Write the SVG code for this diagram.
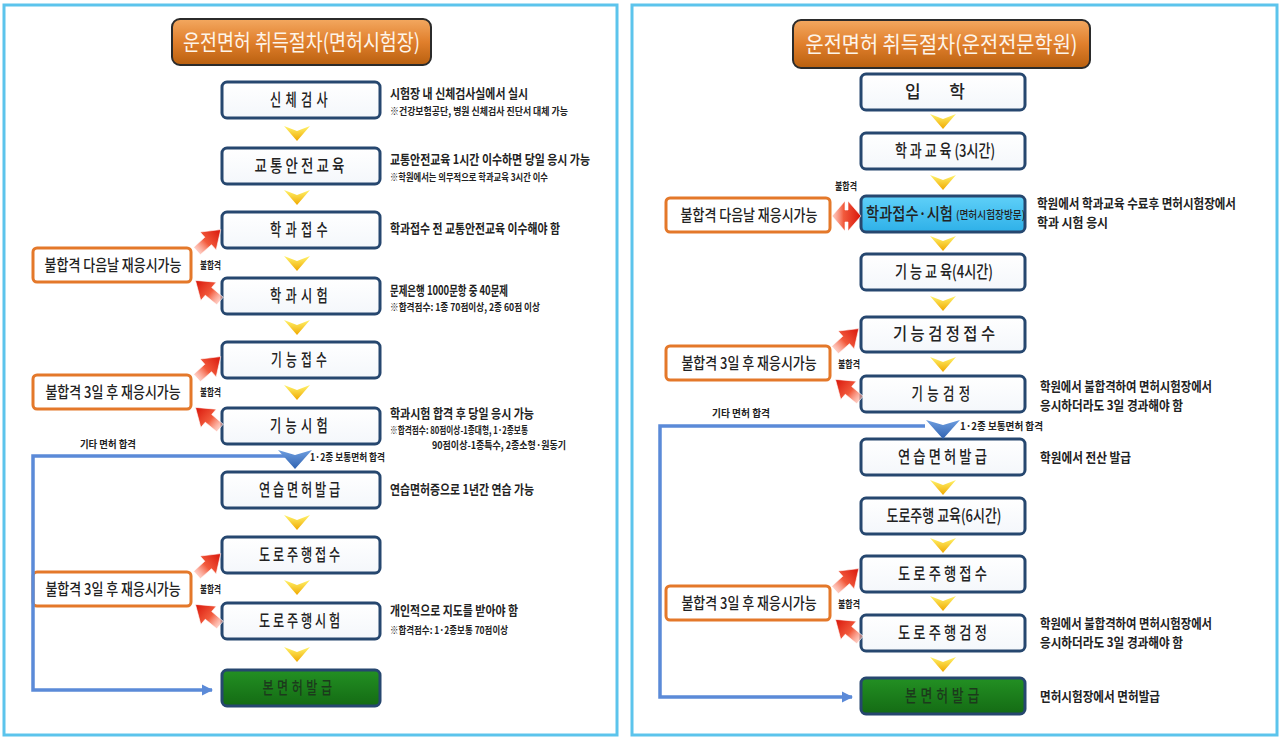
<svg xmlns="http://www.w3.org/2000/svg" width="1280" height="739" viewBox="0 0 1280 739">
<defs>
<linearGradient id="gOrange" x1="0" y1="0" x2="0" y2="1">
<stop offset="0" stop-color="#f3a860"/><stop offset="0.5" stop-color="#e07f2c"/><stop offset="1" stop-color="#b9600f"/>
</linearGradient>
<linearGradient id="gYellow" x1="0" y1="0" x2="0" y2="1">
<stop offset="0" stop-color="#fff36a"/><stop offset="1" stop-color="#f0a800"/>
</linearGradient>
<linearGradient id="gBlueArr" x1="0" y1="0" x2="0" y2="1">
<stop offset="0" stop-color="#6e9ee0"/><stop offset="1" stop-color="#2f62b0"/>
</linearGradient>
<linearGradient id="gRed" x1="0" y1="0" x2="1" y2="0">
<stop offset="0" stop-color="#ffb0a0" stop-opacity="0.6"/><stop offset="0.4" stop-color="#f25a3c"/><stop offset="1" stop-color="#d8150a"/>
</linearGradient>
<linearGradient id="gNode" x1="0" y1="0" x2="0" y2="1">
<stop offset="0" stop-color="#ffffff"/><stop offset="1" stop-color="#f4f7fb"/>
</linearGradient>
<linearGradient id="gSky" x1="0" y1="0" x2="0" y2="1">
<stop offset="0" stop-color="#5fd0f8"/><stop offset="1" stop-color="#2eb0e8"/>
</linearGradient>
<linearGradient id="gGreen" x1="0" y1="0" x2="0" y2="1">
<stop offset="0" stop-color="#239023"/><stop offset="1" stop-color="#146b14"/>
</linearGradient>
<path id="yArrow" d="M-13,0 L0,5 L13,0 L0,15 Z"/>
<path id="rArrow" d="M0,-5 L15,-5 L15,-12 L32,0 L15,12 L15,5 L0,5 Z"/>
<marker id="blueHead" viewBox="0 0 10 10" refX="9" refY="5" markerWidth="3.2" markerHeight="3.6" orient="auto" markerUnits="strokeWidth">
<path d="M0,0 L10,5 L0,10 Z" fill="#5b8ad8"/>
</marker>
</defs>
<style>
.panel{fill:#ffffff;stroke:#5cc4ec;stroke-width:3}
.title rect{fill:url(#gOrange);stroke:#2b2b2b;stroke-width:2}
.title text{font-family:"Noto Sans CJK KR","Noto Sans",sans-serif;font-size:22px;fill:#fdf5ea;text-anchor:middle}
.node rect{fill:url(#gNode);stroke:#26476f;stroke-width:3}
.node text{font-family:"Noto Sans CJK KR","Noto Sans",sans-serif;font-size:17px;font-weight:500;fill:#222;text-anchor:middle}
.node text.st{text-anchor:start}
.node text.sm{font-size:11px}
.node.green rect{fill:url(#gGreen)}
.node.green text{fill:#1c3a1c}
.node.sky rect{fill:url(#gSky)}
.fail rect{fill:#ffffff;stroke:#e4782a;stroke-width:3}
.fail text{font-family:"Noto Sans CJK KR","Noto Sans",sans-serif;font-size:16px;font-weight:500;fill:#222;text-anchor:middle}
.note{font-family:"Noto Sans CJK KR","Noto Sans",sans-serif;font-weight:700;fill:#222}
.n1{font-size:13px}
.n2{font-size:10px}
.lbl{font-family:"Noto Sans CJK KR","Noto Sans",sans-serif;font-weight:700;font-size:10px;fill:#222}
.yel{fill:url(#gYellow)}
.red{fill:url(#gRed);stroke:#fff;stroke-width:0.6}
.bline{fill:none;stroke:#5b8ad8;stroke-width:3.5}
.barr{fill:url(#gBlueArr)}
</style>

<rect class="panel" x="4" y="5" width="613" height="730"/>
<rect class="panel" x="632" y="5" width="645" height="730"/>

<!-- ============ LEFT PANEL ============ -->
<g id="title-left" class="title">
<rect x="172" y="19" width="259" height="46" rx="8"/>
<text x="301.5" y="50" textLength="237" lengthAdjust="spacingAndGlyphs">운전면허 취득절차(면허시험장)</text>
</g>

<g id="L-n1" class="node"><rect x="222" y="82" width="158" height="36" rx="5"/><text x="301" y="106" textLength="62" lengthAdjust="spacingAndGlyphs" letter-spacing="6">신체검사</text></g>
<g id="L-n2" class="node"><rect x="222" y="148" width="158" height="36" rx="5"/><text x="301" y="172" textLength="93" lengthAdjust="spacingAndGlyphs" letter-spacing="4">교통안전교육</text></g>
<g id="L-n3" class="node"><rect x="222" y="212" width="158" height="36" rx="5"/><text x="301" y="236" textLength="62" lengthAdjust="spacingAndGlyphs" letter-spacing="6">학과접수</text></g>
<g id="L-n4" class="node"><rect x="222" y="278" width="158" height="36" rx="5"/><text x="301" y="302" textLength="62" lengthAdjust="spacingAndGlyphs" letter-spacing="6">학과시험</text></g>
<g id="L-n5" class="node"><rect x="222" y="342" width="158" height="36" rx="5"/><text x="301" y="366" textLength="60" lengthAdjust="spacingAndGlyphs" letter-spacing="6">기능접수</text></g>
<g id="L-n6" class="node"><rect x="222" y="408" width="158" height="36" rx="5"/><text x="301" y="432" textLength="62" lengthAdjust="spacingAndGlyphs" letter-spacing="6">기능시험</text></g>
<g id="L-n7" class="node"><rect x="222" y="472" width="158" height="36" rx="5"/><text x="301" y="496" textLength="84" lengthAdjust="spacingAndGlyphs" letter-spacing="4">연습면허발급</text></g>
<g id="L-n8" class="node"><rect x="222" y="537" width="158" height="36" rx="5"/><text x="301" y="561" textLength="84" lengthAdjust="spacingAndGlyphs" letter-spacing="4">도로주행접수</text></g>
<g id="L-n9" class="node"><rect x="222" y="603" width="158" height="36" rx="5"/><text x="301" y="627" textLength="84" lengthAdjust="spacingAndGlyphs" letter-spacing="4">도로주행시험</text></g>
<g id="L-n10" class="node green"><rect x="222" y="670" width="158" height="36" rx="5"/><text x="299" y="694" textLength="73" lengthAdjust="spacingAndGlyphs" letter-spacing="5">본면허발급</text></g>

<g id="L-f1" class="fail"><rect x="33" y="248" width="158" height="34" rx="4"/><text transform="translate(113,271) scale(0.81,1)">불합격 다음날 재응시가능</text></g>
<g id="L-f2" class="fail"><rect x="33" y="375" width="158" height="34" rx="4"/><text transform="translate(113,398) scale(0.81,1)">불합격 3일 후 재응시가능</text></g>
<g id="L-f3" class="fail"><rect x="33" y="572" width="158" height="34" rx="4"/><text transform="translate(113,595) scale(0.81,1)">불합격 3일 후 재응시가능</text></g>

<g id="L-notes" class="note">
<text class="n1" x="390" y="98" textLength="138" lengthAdjust="spacingAndGlyphs">시험장 내 신체검사실에서 실시</text>
<text class="n2" x="390" y="115" textLength="178" lengthAdjust="spacingAndGlyphs">※건강보험공단, 병원 신체검사 진단서 대체 가능</text>
<text class="n1" x="390" y="164" textLength="200" lengthAdjust="spacingAndGlyphs">교통안전교육 1시간 이수하면 당일 응시 가능</text>
<text class="n2" x="390" y="181" textLength="158" lengthAdjust="spacingAndGlyphs">※학원에서는 의무적으로 학과교육 3시간 이수</text>
<text class="n1" x="390" y="233" textLength="170" lengthAdjust="spacingAndGlyphs">학과접수 전 교통안전교육 이수해야 함</text>
<text class="n1" x="390" y="295" textLength="118" lengthAdjust="spacingAndGlyphs">문제은행 1000문항 중 40문제</text>
<text class="n2" x="390" y="311" textLength="150" lengthAdjust="spacingAndGlyphs">※합격점수: 1종 70점이상, 2종 60점 이상</text>
<text class="n1" x="390" y="418" textLength="144" lengthAdjust="spacingAndGlyphs">학과시험 합격 후 당일 응시 가능</text>
<text class="n2" x="390" y="434" textLength="138" lengthAdjust="spacingAndGlyphs">※합격점수: 80점이상-1종대형, 1·2종보통</text>
<text class="n2" x="432" y="448.5" textLength="134" lengthAdjust="spacingAndGlyphs">90점이상-1종특수, 2종소형·원동기</text>
<text class="n1" x="390" y="494" textLength="144" lengthAdjust="spacingAndGlyphs">연습면허증으로 1년간 연습 가능</text>
<text class="n1" x="390" y="615" textLength="128" lengthAdjust="spacingAndGlyphs">개인적으로 지도를 받아야 함</text>
<text class="n2" x="390" y="634" textLength="118" lengthAdjust="spacingAndGlyphs">※합격점수: 1·2종보통 70점이상</text>
</g>

<!-- ============ RIGHT PANEL ============ -->
<g id="title-right" class="title">
<rect x="793" y="20" width="297" height="48" rx="8"/>
<text x="941.5" y="52" textLength="272" lengthAdjust="spacingAndGlyphs">운전면허 취득절차(운전전문학원)</text>
</g>

<g id="R-n1" class="node"><rect x="861" y="74" width="164" height="36" rx="5"/><text x="935" y="98" textLength="60">입 학</text></g>
<g id="R-n2" class="node"><rect x="861" y="133" width="164" height="36" rx="5"/><text x="945" y="157" textLength="100" lengthAdjust="spacingAndGlyphs">학 과 교 육 (3시간)</text></g>
<g id="R-n3" class="node sky"><rect x="861" y="196" width="164" height="36" rx="5"/><text class="st" transform="translate(866,220) scale(0.84,1)">학과접수·시험</text><text class="st sm" transform="translate(956,219) scale(0.88,1)">(면허시험장방문)</text></g>
<g id="R-n4" class="node"><rect x="861" y="254" width="164" height="36" rx="5"/><text x="944" y="278" textLength="98" lengthAdjust="spacingAndGlyphs">기 능 교 육(4시간)</text></g>
<g id="R-n5" class="node"><rect x="861" y="317" width="164" height="35" rx="5"/><text x="944" y="340" textLength="102" lengthAdjust="spacingAndGlyphs">기 능  검 정  접 수</text></g>
<g id="R-n6" class="node"><rect x="861" y="376" width="164" height="36" rx="5"/><text x="943" y="400" textLength="63" lengthAdjust="spacingAndGlyphs" letter-spacing="6">기능검정</text></g>
<g id="R-n7" class="node"><rect x="861" y="439" width="164" height="36" rx="5"/><text x="944" y="463" textLength="92" lengthAdjust="spacingAndGlyphs" letter-spacing="4">연습면허발급</text></g>
<g id="R-n8" class="node"><rect x="861" y="498" width="164" height="36" rx="5"/><text x="944" y="522" textLength="115" lengthAdjust="spacingAndGlyphs">도로주행 교육(6시간)</text></g>
<g id="R-n9" class="node"><rect x="861" y="556" width="164" height="36" rx="5"/><text x="944" y="580" textLength="92" lengthAdjust="spacingAndGlyphs" letter-spacing="4">도로주행접수</text></g>
<g id="R-n10" class="node"><rect x="861" y="615" width="164" height="36" rx="5"/><text x="944" y="639" textLength="92" lengthAdjust="spacingAndGlyphs" letter-spacing="4">도로주행검정</text></g>
<g id="R-n11" class="node green"><rect x="861" y="678" width="164" height="36" rx="5"/><text x="944" y="702" textLength="78" lengthAdjust="spacingAndGlyphs" letter-spacing="5">본면허발급</text></g>

<g id="R-f1" class="fail"><rect x="666" y="198" width="164" height="34" rx="4"/><text transform="translate(749,221) scale(0.81,1)">불합격 다음날 재응시가능</text></g>
<g id="R-f2" class="fail"><rect x="666" y="346" width="164" height="34" rx="4"/><text transform="translate(749,369) scale(0.81,1)">불합격 3일 후 재응시가능</text></g>
<g id="R-f3" class="fail"><rect x="666" y="586" width="164" height="34" rx="4"/><text transform="translate(749,609) scale(0.81,1)">불합격 3일 후 재응시가능</text></g>

<g id="R-notes" class="note">
<text class="n1" x="1037" y="208" textLength="199" lengthAdjust="spacingAndGlyphs">학원에서 학과교육 수료후 면허시험장에서</text>
<text class="n1" x="1037" y="227" textLength="71" lengthAdjust="spacingAndGlyphs">학과 시험 응시</text>
<text class="n1" x="1040" y="391" textLength="172" lengthAdjust="spacingAndGlyphs">학원에서 불합격하여 면허시험장에서</text>
<text class="n1" x="1040" y="410" textLength="143" lengthAdjust="spacingAndGlyphs">응시하더라도 3일 경과해야 함</text>
<text class="n1" x="1040" y="462" textLength="91" lengthAdjust="spacingAndGlyphs">학원에서 전산 발급</text>
<text class="n1" x="1040" y="628" textLength="172" lengthAdjust="spacingAndGlyphs">학원에서 불합격하여 면허시험장에서</text>
<text class="n1" x="1040" y="647" textLength="143" lengthAdjust="spacingAndGlyphs">응시하더라도 3일 경과해야 함</text>
<text class="n1" x="1040" y="701" textLength="120" lengthAdjust="spacingAndGlyphs">면허시험장에서 면허발급</text>
</g>

<!-- ============ CONNECTORS ============ -->
<g id="connectors">
<use href="#yArrow" class="yel" x="297" y="126"/>
<use href="#yArrow" class="yel" x="297" y="190"/>
<use href="#yArrow" class="yel" x="297" y="256"/>
<use href="#yArrow" class="yel" x="297" y="320"/>
<use href="#yArrow" class="yel" x="297" y="385"/>
<use href="#yArrow" class="yel" x="297" y="515"/>
<use href="#yArrow" class="yel" x="297" y="580"/>
<use href="#yArrow" class="yel" x="297" y="647"/>
<use href="#yArrow" class="yel" x="943" y="114"/>
<use href="#yArrow" class="yel" x="943" y="175"/>
<use href="#yArrow" class="yel" x="943" y="236"/>
<use href="#yArrow" class="yel" x="943" y="296"/>
<use href="#yArrow" class="yel" x="943" y="357"/>
<use href="#yArrow" class="yel" x="943" y="480"/>
<use href="#yArrow" class="yel" x="943" y="538"/>
<use href="#yArrow" class="yel" x="943" y="596"/>
<use href="#yArrow" class="yel" x="943" y="657"/>

<polyline class="bline" points="290,456 33,456 33,690 212,690" marker-end="url(#blueHead)"/>
<path class="barr" d="M278,450 L295,455 L312,450 L295,469 Z"/>
<polyline class="bline" points="925,426 660,426 660,697 852,697" marker-end="url(#blueHead)"/>
<path class="barr" d="M926,420 L943,425 L960,420 L943,439 Z"/>

<use href="#rArrow" class="red" transform="translate(197,251) rotate(-42)"/>
<use href="#rArrow" class="red" transform="translate(220,301) rotate(-140)"/>
<use href="#rArrow" class="red" transform="translate(197,378) rotate(-42)"/>
<use href="#rArrow" class="red" transform="translate(220,428) rotate(-140)"/>
<use href="#rArrow" class="red" transform="translate(197,575) rotate(-42)"/>
<use href="#rArrow" class="red" transform="translate(220,625) rotate(-140)"/>
<path class="red" d="M832,216 L845,201 L845,210 L848,210 L848,201 L861,216 L848,231 L848,222 L845,222 L845,231 Z"/>
<use href="#rArrow" class="red" transform="translate(835,350) rotate(-42)"/>
<use href="#rArrow" class="red" transform="translate(860,400) rotate(-140)"/>
<use href="#rArrow" class="red" transform="translate(835,590) rotate(-42)"/>
<use href="#rArrow" class="red" transform="translate(860,640) rotate(-140)"/>

<g class="lbl">
<text x="200" y="269" textLength="21" lengthAdjust="spacingAndGlyphs">불합격</text>
<text x="200" y="396" textLength="21" lengthAdjust="spacingAndGlyphs">불합격</text>
<text x="200" y="593" textLength="21" lengthAdjust="spacingAndGlyphs">불합격</text>
<text x="80" y="448" textLength="56" lengthAdjust="spacingAndGlyphs">기타 면허 합격</text>
<text x="310" y="461" textLength="75" lengthAdjust="spacingAndGlyphs">1·2종 보통면허 합격</text>
<text x="835" y="190" textLength="22" lengthAdjust="spacingAndGlyphs">불합격</text>
<text x="838" y="368" textLength="22" lengthAdjust="spacingAndGlyphs">불합격</text>
<text x="838" y="608" textLength="22" lengthAdjust="spacingAndGlyphs">불합격</text>
<text x="712" y="417" textLength="58" lengthAdjust="spacingAndGlyphs">기타 면허 합격</text>
<text x="960" y="430" textLength="83" lengthAdjust="spacingAndGlyphs">1·2종 보통면허 합격</text>
</g>
</g>
</svg>
